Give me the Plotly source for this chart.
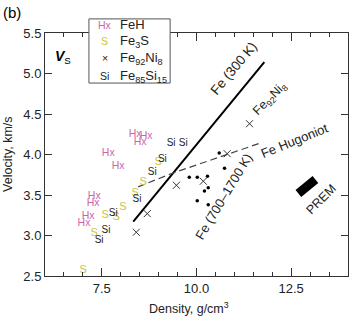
import plotly.graph_objects as go

# ---- data (density g/cm3, Vs km/s) ----
feh_rho = [8.38, 8.67, 8.51, 7.67, 7.93, 7.30, 7.27, 7.14, 7.03]
feh_vs = [4.25, 4.22, 4.15, 4.01, 3.85, 3.48, 3.40, 3.24, 3.15]

fe3s_rho = [7.01, 7.30, 7.59, 7.88, 8.06, 8.38, 8.59, 8.99]
fe3s_vs = [2.57, 3.03, 3.25, 3.23, 3.35, 3.52, 3.66, 3.90]

fesi_rho = [7.43, 7.61, 7.80, 8.43, 8.83, 9.10, 9.33, 9.65]
fesi_vs = [2.94, 3.06, 3.27, 3.45, 3.78, 3.94, 4.14, 4.13]

feni_rho = [8.41, 8.70, 9.47, 10.18, 10.81, 11.40]
feni_vs = [3.04, 3.27, 3.62, 3.67, 4.01, 4.38]

fehot_rho = [9.81, 10.02, 10.29, 10.60, 10.74, 10.21, 10.31, 10.02, 10.31]
fehot_vs = [3.72, 3.72, 3.73, 4.02, 3.83, 3.55, 3.59, 3.43, 3.38]

fe300_rho = [8.33, 11.79]
fe300_vs = [3.17, 5.14]

hug_rho = [8.46, 9.31, 11.74]
hug_vs = [3.60, 3.76, 4.15]

prem_rho = [12.69, 13.14]
prem_vs = [3.52, 3.69]

x_ticks = [6.0, 6.5, 7.0, 7.5, 8.0, 8.5, 9.0, 9.5, 10.0, 10.5, 11.0, 11.5, 12.0, 12.5, 13.0, 13.5, 14.0]
y_ticks = [2.5, 3.0, 3.5, 4.0, 4.5, 5.0, 5.5]

FONT = "Liberation Sans, Arial, sans-serif"
PINK = "#cc66a8"
YEL = "#c8c43a"
DARK = "#222222"

fig = go.Figure()

fig.add_trace(go.Scatter(x=fe300_rho, y=fe300_vs, mode="lines",
                         line=dict(color="black", width=2), showlegend=False))
fig.add_trace(go.Scatter(x=hug_rho, y=hug_vs, mode="lines",
                         line=dict(color="#444444", width=1.2, dash="7px,4px"), showlegend=False))
fig.add_trace(go.Scatter(x=prem_rho, y=prem_vs, mode="lines",
                         line=dict(color="black", width=9), showlegend=False))
fig.add_trace(go.Scatter(x=fehot_rho, y=fehot_vs, mode="markers",
                         marker=dict(color="black", size=3.5), showlegend=False))
fig.add_trace(go.Scatter(x=feni_rho, y=feni_vs, mode="markers",
                         marker=dict(symbol="x-thin", size=7, line=dict(color="#333333", width=1)),
                         showlegend=False))
fig.add_trace(go.Scatter(x=fe3s_rho, y=fe3s_vs, mode="text", text=["S"] * len(fe3s_rho),
                         textfont=dict(family=FONT, size=11, color=YEL), showlegend=False))
fig.add_trace(go.Scatter(x=fesi_rho, y=fesi_vs, mode="text", text=["Si"] * len(fesi_rho),
                         textfont=dict(family=FONT, size=10, color=DARK), showlegend=False))
fig.add_trace(go.Scatter(x=feh_rho, y=feh_vs, mode="text", text=["Hx"] * len(feh_rho),
                         textfont=dict(family=FONT, size=10.5, color=PINK), showlegend=False))

ann = []
def a(x, y, text, size=11, angle=0, color=DARK, xref="x", yref="y", xanchor="center"):
    ann.append(dict(x=x, y=y, text=text, xref=xref, yref=yref, showarrow=False,
                    xanchor=xanchor, yanchor="middle",
                    textangle=angle, font=dict(family=FONT, size=size, color=color)))

a(10.98, 5.06, "Fe (300 K)", size=13.5, angle=-50)
a(11.95, 4.68, "Fe<sub>92</sub>Ni<sub>8</sub>", size=12.5, angle=-45)
a(12.6, 4.17, "Fe Hugoniot", size=13, angle=-22)
a(10.72, 3.48, "Fe (700\u20131700 K)", size=13, angle=-59)
a(13.3, 3.45, "PREM", size=12.5, angle=-45)
a(6.48, 5.20, "<b><i>V</i></b><sub>S</sub>", size=14, color="black")

# panel label and axis titles
a(-0.109, 1.086, "(b)", size=15, color="black", xref="paper", yref="paper")
a(-0.124, 0.5, "Velocity, km/s", size=12.5, angle=-90, xref="paper", yref="paper")
a(0.475, -0.132, "Density, g/cm<sup>3</sup>", size=12.5, xref="paper", yref="paper")

# custom legend
leg_y = [1.033, 0.967, 0.897, 0.823]
leg_sym = ["Hx", "S", "\u00d7", "Si"]
leg_col = [PINK, YEL, DARK, DARK]
leg_lab = ["FeH", "Fe<sub>3</sub>S", "Fe<sub>92</sub>Ni<sub>8</sub>", "Fe<sub>85</sub>Si<sub>15</sub>"]
for yy, s, c, l in zip(leg_y, leg_sym, leg_col, leg_lab):
    a(0.198, yy, s, size=10.5, color=c, xref="paper", yref="paper")
    a(0.241, yy, l, size=13, xref="paper", yref="paper", xanchor="left")

shapes = [dict(type="rect", xref="paper", yref="paper", x0=0.145, x1=0.413, y0=0.794, y1=1.058,
               line=dict(color="#555555", width=1), fillcolor="white", layer="above")]

fig.update_layout(
    width=350, height=317,
    margin=dict(l=45, r=2, t=33, b=41),
    paper_bgcolor="white", plot_bgcolor="white",
    annotations=ann, shapes=shapes,
    font=dict(family=FONT, size=12, color=DARK),
)
fig.update_xaxes(range=[6, 14], showgrid=False, zeroline=False,
                 showline=True, linecolor="#333333", linewidth=1, mirror="ticks",
                 ticks="inside", ticklen=8, tickcolor="#333333",
                 tickvals=[7.5, 10.0, 12.5], ticktext=["7.5", "10.0", "12.5"],
                 minor=dict(tickvals=x_ticks, ticks="inside", ticklen=4, tickcolor="#333333"),
                 tickfont=dict(family=FONT, size=13, color=DARK))
fig.update_yaxes(range=[2.5, 5.5], showgrid=False, zeroline=False,
                 showline=True, linecolor="#333333", linewidth=1, mirror="ticks",
                 ticks="inside", ticklen=7, tickcolor="#333333",
                 tickvals=y_ticks, ticktext=[f"{v:.1f}" for v in y_ticks],
                 tickfont=dict(family=FONT, size=13, color=DARK))

fig.write_html("out.html")
